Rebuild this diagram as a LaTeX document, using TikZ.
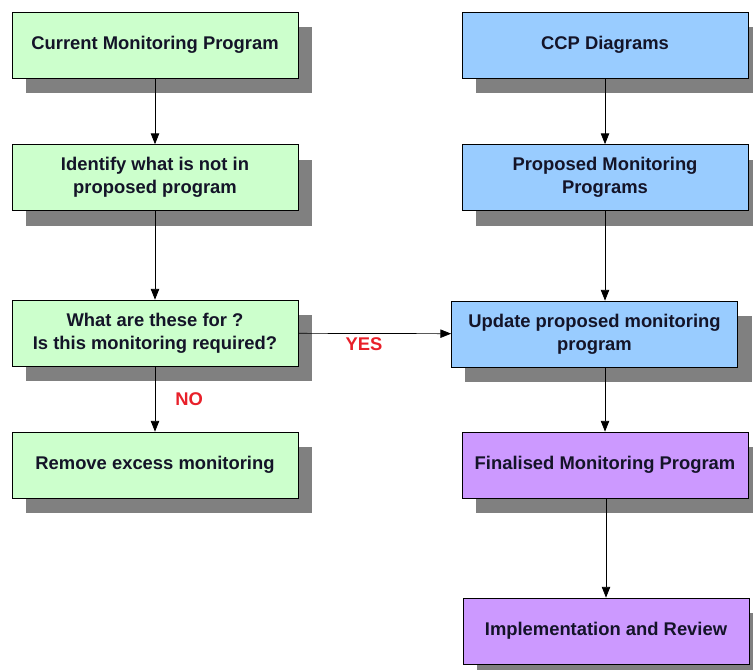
\documentclass[tikz,border=0pt]{standalone}
\usepackage{fontspec}
\setmainfont{Liberation Sans}
\usepackage{xcolor}
\usetikzlibrary{arrows.meta,shadows}

\definecolor{stepgreen}{HTML}{CCFFCC}
\definecolor{stepblue}{HTML}{99CCFF}
\definecolor{steppurple}{HTML}{CC99FF}
\definecolor{shadowgray}{HTML}{808080}
\definecolor{answerred}{HTML}{E8202A}
\definecolor{steptext}{HTML}{141428}

\begin{document}
\begin{tikzpicture}[x=0.03cm, y=-0.03cm, inner sep=3pt]
		\tikzstyle{every node}=[align=center, font=\fontsize{15.7}{19.8}\selectfont\bfseries]
		\tikzstyle{stepbox}=[draw, line width=0.6pt, text=steptext, minimum width=8.58cm, minimum height=1.98cm,
			drop shadow={shadow xshift=0.42cm, shadow yshift=-0.45cm, fill=shadowgray, opacity=1}]
		\tikzstyle{flow}=[line width=0.6pt, -{Triangle[length=3.2mm, width=2.5mm]}]
		\tikzstyle{answer}=[text=answerred]
		\useasboundingbox (0, 0) rectangle (753, 670);

			\node[stepbox, fill=stepgreen] (current) at (155, 45) {Current Monitoring Program};
			\node[stepbox, fill=stepgreen] (identify) at (155, 177.5) {Identify what is not in\\proposed program};
			\node[stepbox, fill=stepgreen] (question) at (155, 333) {What are these for ?\\Is this monitoring required?};
			\node[stepbox, fill=stepgreen] (remove) at (155, 465) {Remove excess monitoring};

			\node[stepbox, fill=stepblue] (ccp) at (605, 45) {CCP Diagrams};
			\node[stepbox, fill=stepblue] (proposed) at (605, 177.5) {Proposed Monitoring\\Programs};
			\node[stepbox, fill=stepblue] (update) at (594.5, 334) {Update proposed monitoring\\program};
			\node[stepbox, fill=steppurple] (final) at (605, 465) {Finalised Monitoring Program};
			\node[stepbox, fill=steppurple] (review) at (606, 631) {Implementation and Review};

			\draw[flow] (current) -- (identify);
			\draw[flow] (identify) -- (question);
			\draw[flow] (question) -- node[midway, right, answer, xshift=14pt] {NO} (remove);
			\draw[flow] (question) -- node[pos=0.43, below, answer] {YES} (update);

			\draw[flow] (ccp) -- (proposed);
			\draw[flow] (proposed) -- (proposed |- update.north);
			\draw[flow] (proposed |- update.south) -- (final);
			\draw[flow] (final.south) -- (final.south -| review.north) -- (review);
		\end{tikzpicture}
\end{document}
